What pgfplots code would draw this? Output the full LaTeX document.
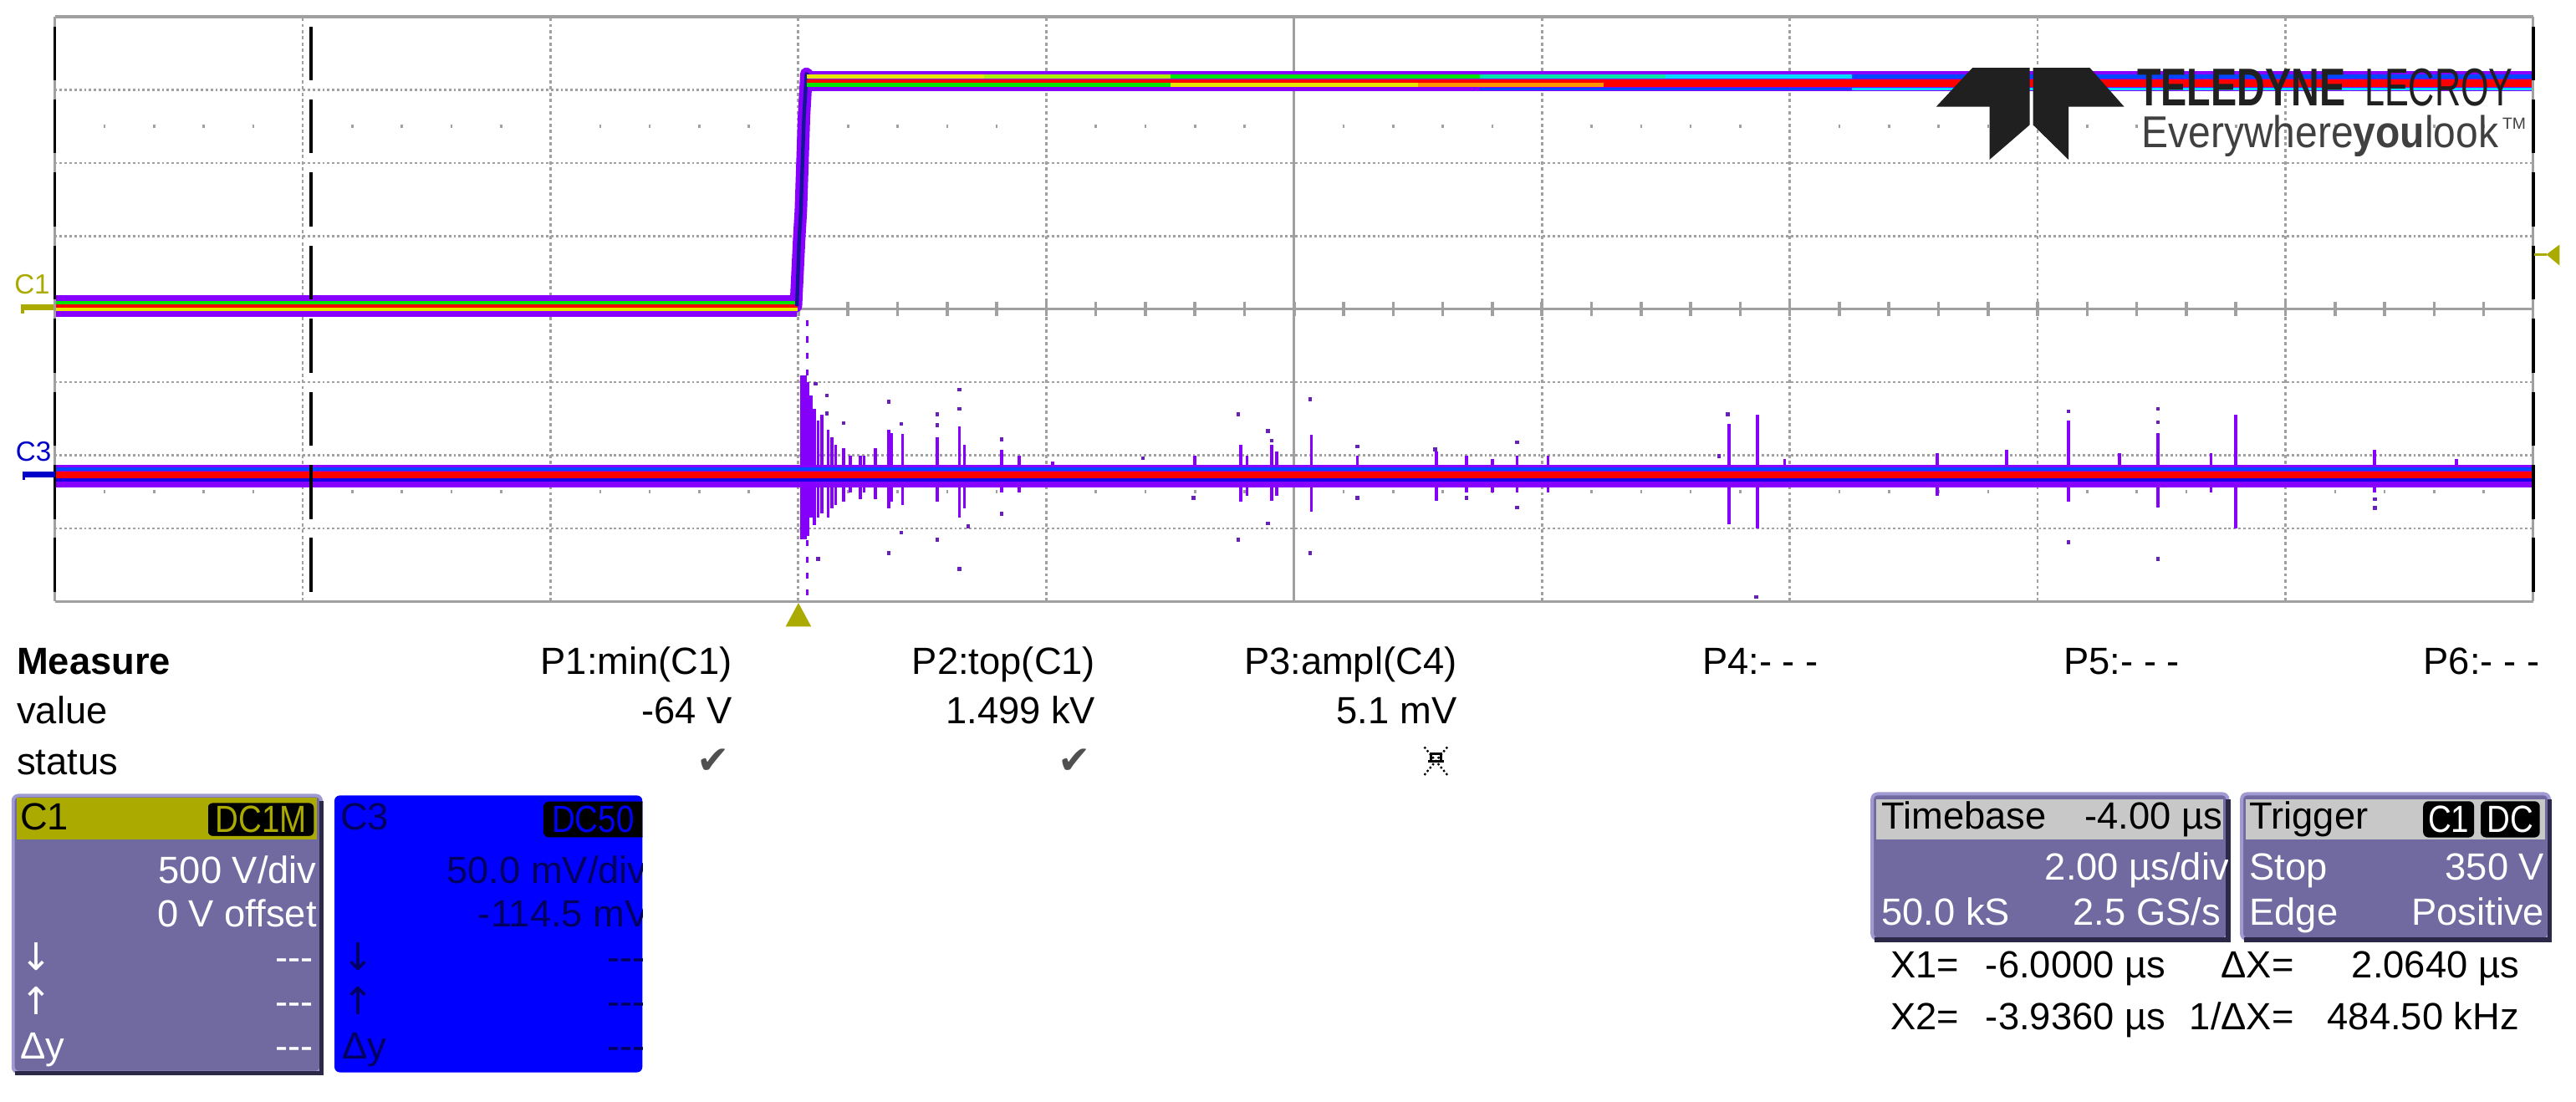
\documentclass[border=0pt]{standalone}
\usepackage{fontspec}
\setmainfont{Liberation Sans}
\newfontfamily\dejavu{DejaVu Sans}
\usepackage{graphicx}
\usepackage{pgfplots}
\pgfplotsset{compat=1.18}

\definecolor{grd}{RGB}{160,160,160}
\definecolor{pers}{RGB}{136,0,255}
\definecolor{spk}{RGB}{132,0,250}
\definecolor{spkd}{RGB}{104,32,184}
\definecolor{pblue}{RGB}{0,72,255}
\definecolor{pblue2}{RGB}{24,0,230}
\definecolor{pred}{RGB}{255,0,0}
\definecolor{pgreen}{RGB}{0,230,0}
\definecolor{pyellow}{RGB}{230,230,0}
\definecolor{pyg}{RGB}{170,240,0}
\definecolor{pteal}{RGB}{0,230,170}
\definecolor{pcyan}{RGB}{0,220,255}
\definecolor{porange}{RGB}{255,150,0}
\definecolor{edge}{RGB}{20,20,150}
\definecolor{olive}{RGB}{170,170,0}
\definecolor{c3mark}{RGB}{0,0,200}
\definecolor{lav}{RGB}{112,106,160}
\definecolor{lavlt}{RGB}{160,154,210}
\definecolor{lavdk}{RGB}{44,40,72}
\definecolor{c3blue}{RGB}{0,0,255}
\definecolor{c3txt}{RGB}{0,0,96}
\definecolor{tbar}{RGB}{200,200,200}
\definecolor{chk}{RGB}{80,80,80}
\definecolor{logo}{RGB}{32,32,32}
\definecolor{logogray}{RGB}{64,64,64}

\newcommand\scr{\fontsize{16.4pt}{19pt}\selectfont}

\begin{document}
\begin{tikzpicture}
\useasboundingbox (0,0) rectangle (392mm,167.675mm);

% screen graticule (1 unit = one pixel of the 1568 px wide screen)
\begin{scope}[x=0.25mm,y=0.25mm]
\foreach \k in {1,2,3,4,6,7,8,9}
  \draw[grd, line width=0.36mm, dash pattern=on 0.5mm off 0.45mm]
    ({33.4+\k*150.86},304.6) -- ({33.4+\k*150.86},660.5);
\foreach \j in {1,2,3,5,6,7}
  \draw[grd, line width=0.34mm, dash pattern=on 0.36mm off 0.38mm]
    (33.4,{304.6+\j*44.49}) -- (1542,{304.6+\j*44.49});
\draw[grd, line width=0.4mm] (33.4,482.55) -- (1542,482.55);
\draw[grd, line width=0.4mm] (787.7,304.6) -- (787.7,660.5);
\foreach \k in {0,...,9}
  \foreach \m in {0,...,4}
    \draw[grd, line width=0.45mm] ({33.4+\k*150.86+\m*30.172},478.2) -- ++(0,8.7);
\foreach \k in {0,...,9}
  \foreach \m in {1,...,4} {
    \fill[grd] ({33.4+\k*150.86+\m*30.172-0.6},592.9) rectangle ++(1.3,1.8);
    \fill[grd] ({33.4+\k*150.86+\m*30.172-0.6},370.5) rectangle ++(1.3,1.8);
  }
\end{scope}

\begin{axis}[at={(8.35mm,76.15mm)}, anchor=south west, scale only axis,
  width=377.15mm, height=88.975mm,
  xmin=-6, xmax=14, ymin=-4, ymax=4,
  hide axis, unbounded coords=jump]

% ---- C3 ringing spikes
\addplot[spk, line width=1.0mm] coordinates {(0.04,-0.91)(0.04,-3.155)};
\addplot[spk, line width=0.8mm] coordinates {(0.068,-1.0)(0.068,-3.1)};
\addplot[spk, line width=0.45mm] coordinates {
(0.10,-1.18)(0.10,-2.85)(0.10,nan)
(0.13,-1.36)(0.13,-2.95)(0.13,nan)
(0.16,-1.52)(0.16,-2.85)(0.16,nan)
(0.19,-1.44)(0.19,-2.80)(0.19,nan)
(0.24,-1.65)(0.24,-2.85)(0.24,nan)
(0.27,-1.75)(0.27,-2.73)(0.27,nan)
(0.30,-1.86)(0.30,-2.68)(0.30,nan)
(0.365,-1.90)(0.365,-2.64)(0.365,nan)
(0.42,-2.01)(0.42,-2.51)(0.42,nan)
(0.50,-2.01)(0.50,-2.60)(0.50,nan)
(0.53,-2.01)(0.53,-2.51)(0.53,nan)
(0.62,-1.90)(0.62,-2.60)(0.62,nan)
(0.73,-1.65)(0.73,-2.73)(0.73,nan)
(0.75,-1.70)(0.75,-2.64)(0.75,nan)
(0.84,-1.71)(0.84,-2.68)(0.84,nan)
(1.12,-1.75)(1.12,-2.64)(1.12,nan)
(1.30,-1.60)(1.30,-2.85)(1.30,nan)
(1.34,-1.86)(1.34,-2.73)(1.34,nan)
(1.64,-1.92)(1.64,-2.51)(1.64,nan)
(1.78,-2.01)(1.78,-2.51)(1.78,nan)
(2.05,-2.09)(2.05,-2.43)(2.05,nan)
(3.20,-2.01)(3.20,-2.43)(3.20,nan)
(3.57,-1.86)(3.57,-2.64)(3.57,nan)
(3.62,-2.01)(3.62,-2.55)(3.62,nan)
(3.82,-1.86)(3.82,-2.62)(3.82,nan)
(3.86,-1.95)(3.86,-2.55)(3.86,nan)
(4.14,-1.72)(4.14,-2.77)(4.14,nan)
(4.51,-2.01)(4.51,-2.43)(4.51,nan)
(5.15,-1.95)(5.15,-2.62)(5.15,nan)
(5.39,-2.01)(5.39,-2.51)(5.39,nan)
(5.60,-2.05)(5.60,-2.51)(5.60,nan)
(5.80,-2.01)(5.80,-2.51)(5.80,nan)
(6.05,-2.01)(6.05,-2.51)(6.05,nan)
(7.51,-1.575)(7.51,-2.94)(7.51,nan)
(7.74,-1.44)(7.74,-3.00)(7.74,nan)
(7.96,-2.05)(7.96,-2.43)(7.96,nan)
(9.19,-1.975)(9.19,-2.56)(9.19,nan)
(9.75,-1.92)(9.75,-2.43)(9.75,nan)
(10.25,-1.52)(10.25,-2.64)(10.25,nan)
(10.66,-1.975)(10.66,-2.43)(10.66,nan)
(10.97,-1.70)(10.97,-2.72)(10.97,nan)
(11.40,-1.975)(11.40,-2.51)(11.40,nan)
(11.60,-1.44)(11.60,-3.00)(11.60,nan)
(12.72,-1.92)(12.72,-2.51)(12.72,nan)
(13.38,-2.05)(13.38,-2.43)
};
\addplot[spk, line width=0.45mm, dash pattern=on 0.9mm off 1.6mm] coordinates {
(0.072,-0.15)(0.072,-0.91)(0.072,nan)(0.072,-3.16)(0.072,-3.95)};
\addplot[only marks, mark=square*, mark size=0.22mm, spkd] coordinates {
(0.14,-1.02)(0.23,-1.18)(0.23,-1.43)(0.365,-1.56)(0.73,-1.27)(0.73,-3.335)
(0.83,-1.57)(0.83,-3.06)(1.12,-1.44)(1.12,-1.59)(1.12,-3.155)(1.30,-1.10)
(1.30,-1.365)(1.30,-3.555)(1.37,-2.97)(1.64,-1.785)(1.64,-2.80)(0.16,-3.42)
(2.78,-2.04)(3.19,-2.58)(3.55,-1.44)(3.55,-3.155)(3.79,-1.67)(3.82,-1.80)
(3.79,-2.93)(4.13,-1.235)(4.13,-3.335)(4.51,-1.88)(4.51,-2.58)(5.14,-1.92)
(5.39,-2.58)(5.80,-1.82)(5.80,-2.715)(7.43,-2.01)(7.50,-1.44)(7.73,-3.94)
(10.25,-1.40)(10.25,-3.19)(10.97,-1.365)(10.97,-1.55)(10.97,-3.42)
(12.72,-2.60)(12.72,-2.72)};

% ---- C3 baseline (persistence bands)
\addplot[pers, line width=3.45mm] coordinates {(-6,-2.285)(14,-2.285)};
\addplot[pblue, line width=0.45mm] coordinates {(-6,-2.19)(14,-2.19)};
\addplot[pred, line width=1.05mm] coordinates {(-6,-2.265)(14,-2.265)};
\addplot[pblue2, line width=0.45mm] coordinates {(-6,-2.335)(14,-2.335)};

% ---- C1 step (persistence bands)
\addplot[pers, line width=3.3mm] coordinates {(-6,0.04)(-0.012,0.04)};
\addplot[pers, line width=3.1mm] coordinates {(0.075,3.12)(14,3.12)};
\addplot[pers, line width=1.9mm, line join=round, line cap=round] coordinates {
(-0.02,0.04)(0.006,0.95)(0.02,1.35)(0.045,2.63)(0.065,3.22)(0.09,3.17)(0.13,3.12)};
\addplot[pgreen, line width=0.55mm] coordinates {(-6,0.087)(-0.012,0.087)};
\addplot[pred, line width=0.45mm] coordinates {(-6,0.042)(-0.006,0.042)};
\addplot[pyellow, line width=0.5mm] coordinates {(-6,-0.001)(-0.006,-0.001)};
\addplot[edge, line width=0.55mm, line join=round] coordinates {
(-0.012,0.04)(0.006,0.95)(0.02,1.35)(0.045,2.63)(0.065,3.22)(0.1,3.17)};
% upper inner line
\addplot[pyellow, line width=0.6mm] coordinates {(0.07,3.18)(1.5,3.18)};
\addplot[pyg, line width=0.6mm] coordinates {(1.5,3.18)(3,3.18)};
\addplot[pgreen, line width=0.6mm] coordinates {(3,3.18)(5.5,3.18)};
\addplot[pteal, line width=0.6mm] coordinates {(5.5,3.18)(7,3.18)};
\addplot[pcyan, line width=0.6mm] coordinates {(7,3.18)(8.5,3.18)};
\addplot[pblue, line width=0.6mm] coordinates {(8.5,3.18)(14,3.18)};
% centre line
\addplot[pred, line width=0.6mm] coordinates {(0.07,3.12)(14,3.12)};
% lower inner line
\addplot[pgreen, line width=0.6mm] coordinates {(0.07,3.07)(3,3.07)};
\addplot[pyellow, line width=0.6mm] coordinates {(3,3.07)(5,3.07)};
\addplot[porange, line width=0.6mm] coordinates {(5,3.07)(6.5,3.07)};
\addplot[pred, line width=0.6mm] coordinates {(6.5,3.07)(14,3.07)};
\addplot[pblue, line width=0.4mm] coordinates {(5.5,3.015)(8.5,3.015)};
\addplot[pcyan, line width=0.4mm] coordinates {(8.5,3.015)(14,3.015)};
\end{axis}

\begin{scope}[x=0.25mm,y=0.25mm, every node/.style={inner sep=0pt, font=\scr}]
% frame and cursors
\draw[grd, line width=0.4mm] (33.4,660.5) -- (1542,660.5) (33.4,304.6) -- (1542,304.6);
\draw[grd, line width=0.4mm] (33.4,304.6) -- (33.4,660.5) (1542,304.6) -- (1542,660.5);
\foreach \xx/\lw in {33.4/0.45mm, 189.1/0.5mm, 1542/0.45mm}
  \draw[black, line width=\lw, dash pattern=on 8.2mm off 2.9225mm, dash phase=9.66mm]
    (\xx,660.5) -- (\xx,304.6);

% channel and trigger markers
\node[anchor=base west, olive, font=\fontsize{12pt}{14pt}\selectfont] at (8.5,492) {C1};
\fill[olive] (12.5,482.0) rectangle (32.6,485.3);
\fill[olive] (12.5,480.0) rectangle (14.6,485.3);
\node[anchor=base west, c3mark, font=\fontsize{12pt}{14pt}\selectfont] at (9.3,390) {C3};
\fill[c3mark] (13.6,380.0) rectangle (33.4,383.5);
\fill[c3mark] (13.6,378.4) rectangle (15.3,383.5);
\fill[olive] (1550,515.8) -- (1558,521.8) -- (1558,509.1) -- cycle;
\draw[olive, line width=0.45mm] (1542.5,515.8) -- (1550,515.8);
\fill[olive] (486,303.7) -- (478.2,289.3) -- (493.8,289.3) -- cycle;

% logo
\fill[logo] (1200.6,629.4) -- (1235.5,629.4) -- (1235.5,594.7) -- (1211,573.5)
  -- (1211,605.7) -- (1178.5,605.7) -- cycle;
\fill[logo] (1237.5,629.4) -- (1272.1,629.4) -- (1293,605.7) -- (1259.1,605.7)
  -- (1259.1,573.5) -- (1237.5,594.7) -- cycle;
\node[anchor=base west, logo, font=\fontsize{23pt}{26pt}\selectfont\bfseries]
  at (1300.7,606.2) {\scalebox{0.735}[1]{TELEDYNE}};
\node[anchor=base west, logo, font=\fontsize{23pt}{26pt}\selectfont]
  at (1439,606.2) {\scalebox{0.68}[1]{LECROY}};
\node[anchor=base west, logogray, font=\fontsize{19.3pt}{22pt}\selectfont]
  at (1303.3,581.1) {\scalebox{0.9}[1]{Everywhere\textbf{you}look}};
\node[anchor=base west, logogray, font=\fontsize{7pt}{8pt}\selectfont] at (1523,592) {TM};

% measurement table
\node[anchor=base west, font=\scr\bfseries] at (10,260.5) {Measure};
\node[anchor=base east] at (446,260.5) {P1:min(C1)};
\node[anchor=base east] at (667,260.5) {P2:top(C1)};
\node[anchor=base east] at (887,260.5) {P3:ampl(C4)};
\node[anchor=base east] at (1107,260.5) {P4:- - -};
\node[anchor=base east] at (1327,260.5) {P5:- - -};
\node[anchor=base east] at (1546,260.5) {P6:- - -};
\node[anchor=base west] at (10,230) {value};
\node[anchor=base east] at (446,230) {-64 V};
\node[anchor=base east] at (667,230) {1.499 kV};
\node[anchor=base east] at (887,230) {5.1 mV};
\node[anchor=base west] at (10,199.4) {status};
\node[chk, font=\dejavu\fontsize{17pt}{19pt}\selectfont] at (434,207.3) {✔};
\node[chk, font=\dejavu\fontsize{17pt}{19pt}\selectfont] at (654,207.3) {✔};
\draw[black, line width=0.3mm, densely dotted] (867,199) -- (881,216) (881,199) -- (867,216);
\draw[black, line width=0.35mm] (869,207.5) -- (879,207.5) (871,207.5) -- (871,212) -- (877,212) -- (877,207.5);

% C1 channel box
\filldraw[fill=lav, draw=lavlt, line width=0.5mm, rounded corners=0.8mm] (8,18) rectangle (195.5,186.5);
\draw[lavdk, line width=0.7mm] (9,17.5) -- (195.8,17.5) -- (195.8,183);
\fill[olive] (10,159.5) rectangle (193,185);
\node[anchor=base west, black] at (12,165.5) {C1};
\filldraw[fill=black, draw=olive, line width=0.3mm, rounded corners=0.8mm] (126,161.3) rectangle (191.6,182.5);
\node[olive] at (158.8,171.9) {\scalebox{0.85}[1]{DC1M}};
\node[anchor=base east, white] at (193,133.2) {500 V/div};
\node[anchor=base east, white] at (193,106.6) {0 V offset};
\node[anchor=base west, white, font=\dejavu\scr] at (12,80) {↓};
\node[anchor=base west, white, font=\dejavu\scr] at (12,53) {↑};
\node[anchor=base west, white] at (12,26) {Δy};
\foreach \yy in {80,53,26} \node[anchor=base east, white] at (191,\yy) {-{}-{}-};

% C3 channel box
\fill[c3blue, rounded corners=0.8mm] (203.6,18) rectangle (391,186.5);
\begin{scope}
\clip (203.6,18) rectangle (391,186.5);
\node[anchor=base west, c3txt] at (207,165.5) {C3};
\filldraw[fill=black, draw=black, rounded corners=0.8mm] (331,161.3) rectangle (396,182.5);
\node[c3blue] at (361,171.9) {\scalebox{0.85}[1]{DC50}};
\node[anchor=base east, c3txt] at (394,133.2) {50.0 mV/div};
\node[anchor=base east, c3txt] at (396,106.6) {-114.5 mV};
\node[anchor=base west, c3txt, font=\dejavu\scr] at (208,80) {↓};
\node[anchor=base west, c3txt, font=\dejavu\scr] at (208,53) {↑};
\node[anchor=base west, c3txt] at (208,26) {Δy};
\foreach \yy in {80,53,26} \node[anchor=base east, c3txt] at (393,\yy) {-{}-{}-};
\end{scope}

% timebase box
\filldraw[fill=lav, draw=lavlt, line width=0.5mm, rounded corners=0.8mm] (1139.6,99.1) rectangle (1356,187.5);
\draw[lavdk, line width=0.7mm] (1141,98.6) -- (1356.3,98.6) -- (1356.3,184);
\fill[tbar] (1142,159.5) rectangle (1353,184.1);
\begin{scope}
\clip (1139.6,99.1) rectangle (1356,187.5);
\node[anchor=base west, black] at (1145,166.3) {Timebase};
\node[anchor=base east, black] at (1353,166.3) {-4.00 µs};
\node[anchor=base east, white] at (1357,135) {2.00 µs/div};
\node[anchor=base west, white] at (1145,107.8) {50.0 kS};
\node[anchor=base east, white] at (1352,107.8) {2.5 GS/s};
\end{scope}

% trigger box
\filldraw[fill=lav, draw=lavlt, line width=0.5mm, rounded corners=0.8mm] (1364.5,99.1) rectangle (1551.7,187.5);
\draw[lavdk, line width=0.7mm] (1366,98.6) -- (1552,98.6) -- (1552,184);
\fill[tbar] (1367,159.5) rectangle (1549,184.1);
\node[anchor=base west, black] at (1369,166.3) {Trigger};
\fill[black, rounded corners=0.8mm] (1475,161) rectangle (1506,183);
\fill[black, rounded corners=0.8mm] (1510,161) rectangle (1546,183);
\node[white] at (1490.5,172) {\scalebox{0.85}[1]{C1}};
\node[white] at (1528,172) {\scalebox{0.85}[1]{DC}};
\node[anchor=base west, white] at (1369,135) {Stop};
\node[anchor=base east, white] at (1549,135) {350 V};
\node[anchor=base west, white] at (1369,107.8) {Edge};
\node[anchor=base east, white] at (1549,107.8) {Positive};

% cursor readout
\node[anchor=base west] at (1150.7,75.6) {X1=};
\node[anchor=base east] at (1318.4,75.6) {-6.0000 µs};
\node[anchor=base east] at (1396.6,75.6) {ΔX=};
\node[anchor=base east] at (1533.6,75.6) {2.0640 µs};
\node[anchor=base west] at (1150.7,44.2) {X2=};
\node[anchor=base east] at (1318.4,44.2) {-3.9360 µs};
\node[anchor=base east] at (1396.6,44.2) {1/ΔX=};
\node[anchor=base east] at (1533.6,44.2) {484.50 kHz};
\end{scope}
\end{tikzpicture}
\end{document}
